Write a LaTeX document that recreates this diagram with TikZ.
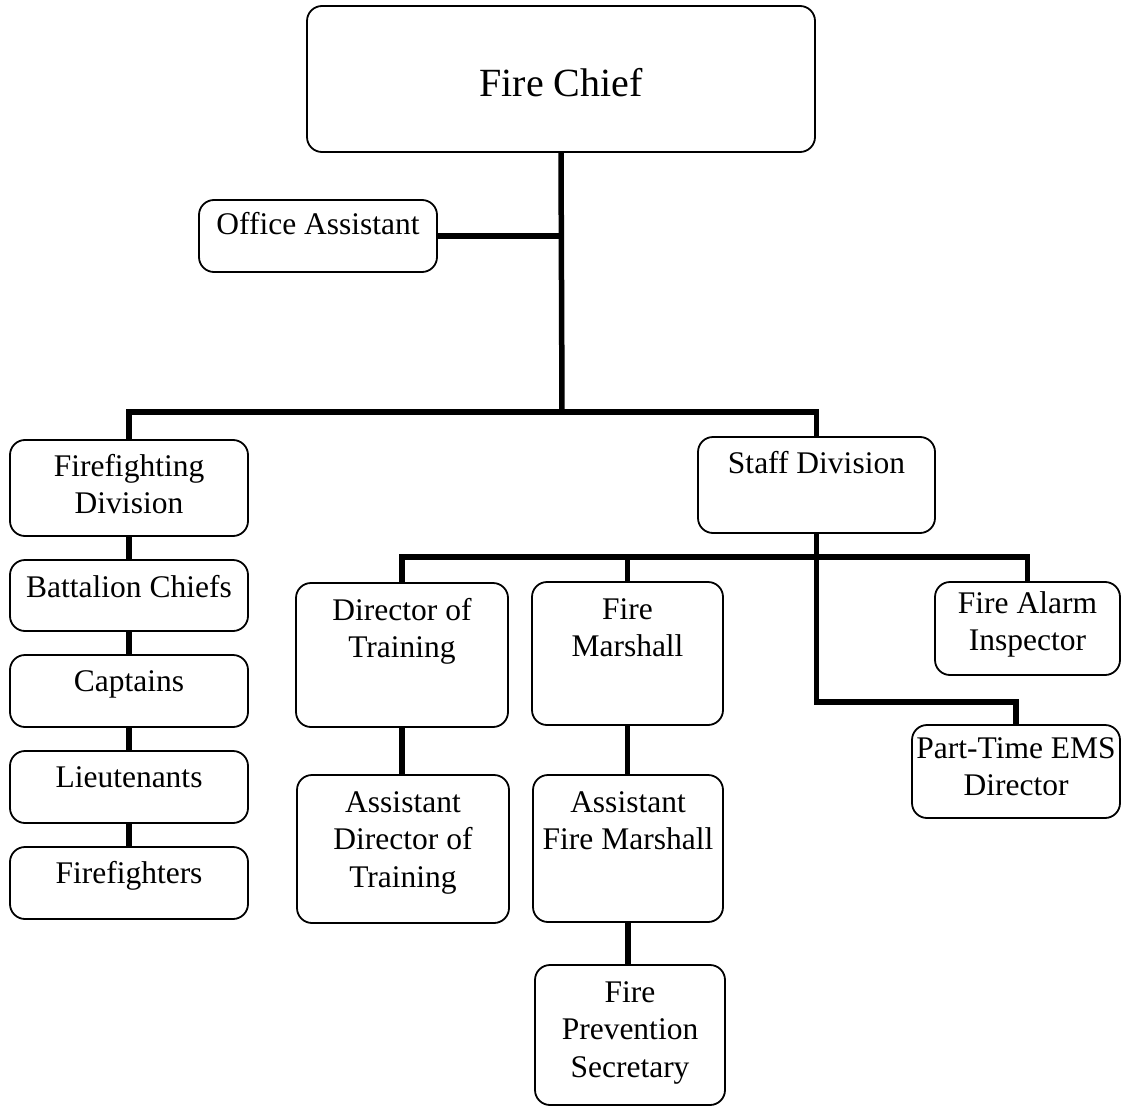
\documentclass[tikz,border=0pt]{standalone}
\usepackage{fontspec}
\setmainfont{Liberation Serif}
% \orgtext{width}{height}{first baseline from top}{text}: a fixed-size box with top-aligned, centred lines
\newcommand\orgtext[4]{\vbox to #2pt{\hsize=#1pt\centering
  \vskip\dimexpr#3pt-\ht\strutbox\relax
  \strut #4\par\vfil}}
\tikzset{
  orgbox/.style={draw, line width=1.8pt, rounded corners=15pt, inner sep=0pt,
    outer sep=0pt, anchor=north west, font=\fontsize{31.5}{37.5}\selectfont},
  bigtext/.style={font=\fontsize{40}{48}\selectfont},
  link/.style={line width=5.5pt, line join=miter}
}
\begin{document}
\begin{tikzpicture}[x=1pt,y=-1pt]
\useasboundingbox (0,0) rectangle (1121,1107);

% boxes
\node[orgbox,bigtext] (chief) at (307,6)   {\orgtext{508}{146}{91}{Fire Chief}};
\node[orgbox] (office) at (199,200)  {\orgtext{238}{72}{35}{Office Assistant}};
\node[orgbox] (ffdiv)  at (10,440)   {\orgtext{238}{96}{36}{Firefighting\\Division}};
\node[orgbox] (staff)  at (698,437)  {\orgtext{237}{96}{36}{Staff Division}};
\node[orgbox] (batt)   at (10,560)   {\orgtext{238}{71}{37}{Battalion Chiefs}};
\node[orgbox] (capt)   at (10,655)   {\orgtext{238}{72}{36}{Captains}};
\node[orgbox] (lieut)  at (10,751)   {\orgtext{238}{72}{36}{Lieutenants}};
\node[orgbox] (firef)  at (10,847)   {\orgtext{238}{72}{36}{Firefighters}};
\node[orgbox] (dir)    at (296,583)  {\orgtext{212}{144}{37}{Director of\\Training}};
\node[orgbox] (fm)     at (532,582)  {\orgtext{191}{143}{37}{Fire\\Marshall}};
\node[orgbox] (alarm)  at (935,582)  {\orgtext{185}{93}{31}{Fire Alarm\\Inspector}};
\node[orgbox] (ems)    at (912,725)  {\orgtext{208}{93}{33}{Part-Time EMS\\Director}};
\node[orgbox] (adir)   at (297,775)  {\orgtext{212}{148}{37}{Assistant\\Director of\\Training}};
\node[orgbox] (afm)    at (533,775)  {\orgtext{190}{147}{37}{Assistant\\Fire Marshall}};
\node[orgbox] (fps)    at (535,965)  {\orgtext{190}{140}{37}{Fire\\Prevention\\Secretary}};

% junction points of the connector lines
\coordinate (bus)   at (562,412);
\coordinate (bus2)  at (816.5,557);
\coordinate (elbow) at (816.5,702);

% fire chief level
\draw[link] (chief.south) -- (bus);
\draw[link] (office.east) -- (office.east -| chief.south);
\draw[link] (ffdiv.north) |- (bus) -| (staff.north);

% firefighting division chain
\draw[link] (ffdiv.south) -- (batt.north);
\draw[link] (batt.south)  -- (capt.north);
\draw[link] (capt.south)  -- (lieut.north);
\draw[link] (lieut.south) -- (firef.north);

% staff division
\draw[link] (staff.south) -- (elbow) -| (ems.north);
\draw[link] (dir.north) |- (bus2) -| (alarm.north);
\draw[link] (fm.north) -- (fm.north |- bus2);
\draw[link] (dir.south) -- (dir.south |- adir.north);
\draw[link] (fm.south)  -- (fm.south |- afm.north);
\draw[link] (afm.south) -- (afm.south |- fps.north);
\end{tikzpicture}
\end{document}
